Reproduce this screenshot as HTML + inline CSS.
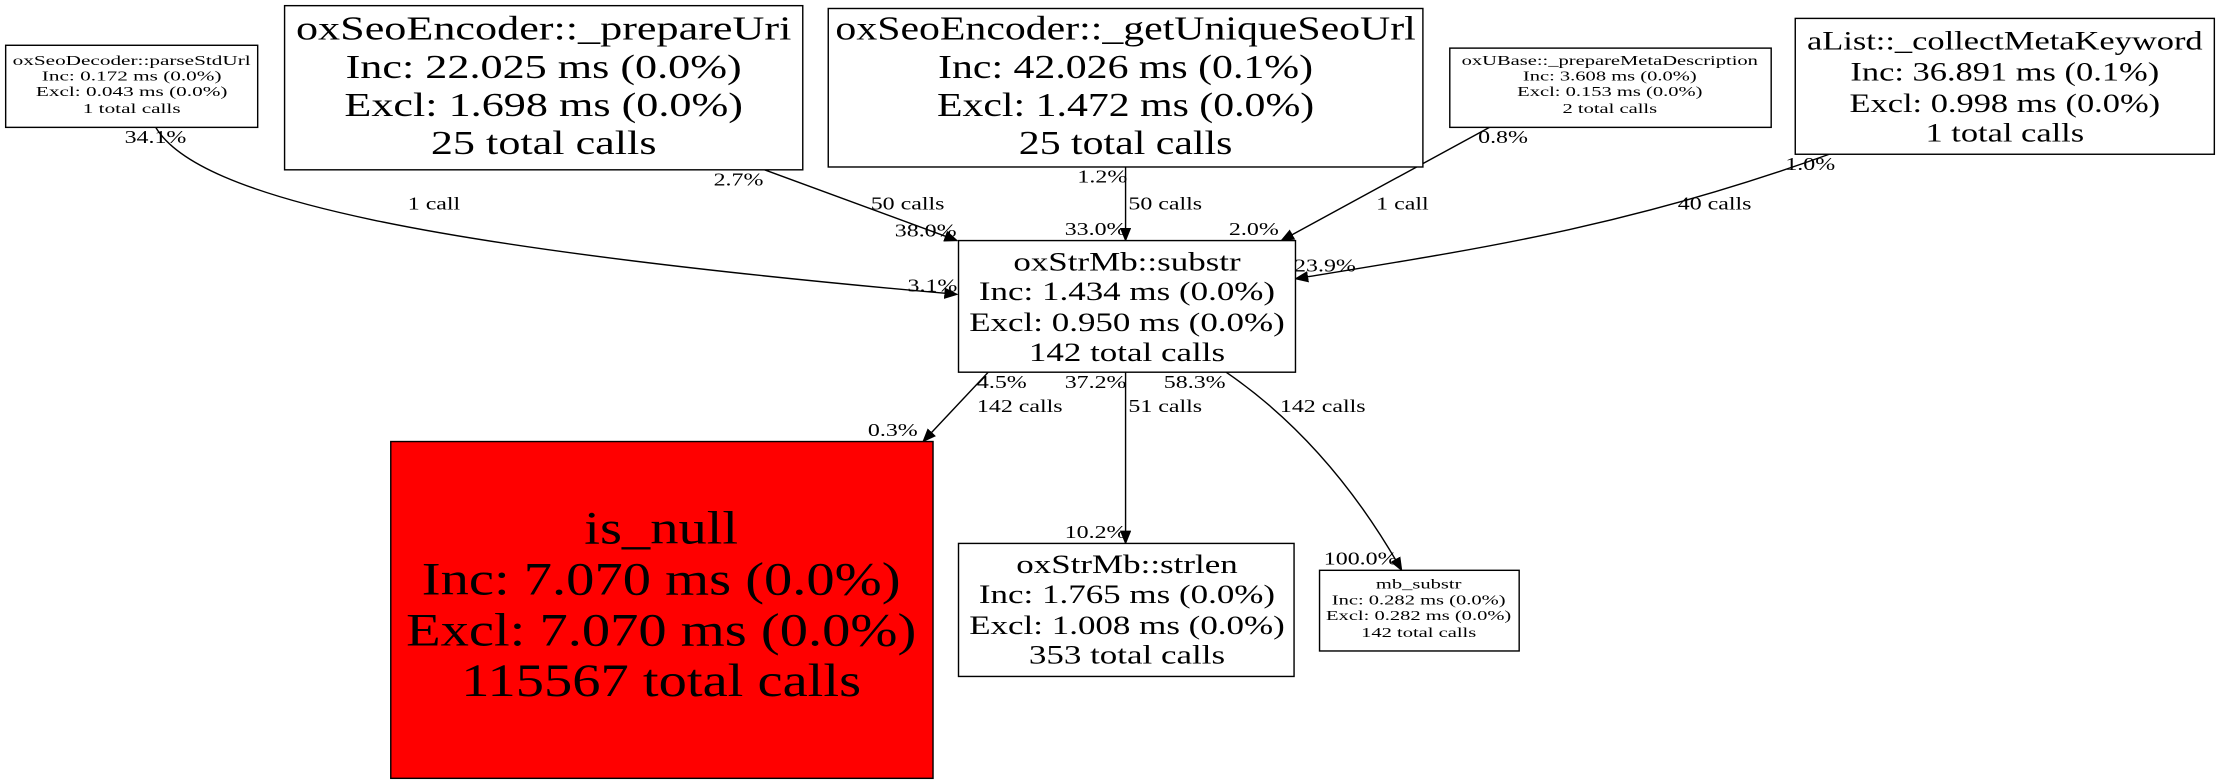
<!DOCTYPE html>
<html><head><meta charset="utf-8"><style>html,body{margin:0;padding:0;background:#fff;}svg{display:block}</style></head>
<body>
<svg width="2220" height="784" viewBox="0 0 1568 554" preserveAspectRatio="none" xmlns="http://www.w3.org/2000/svg" font-family="'Liberation Serif', serif">
<defs><marker id="a" markerWidth="10" markerHeight="8" refX="9" refY="4" orient="auto" markerUnits="userSpaceOnUse"><path d="M0,0 L10,4 L0,8 Z" fill="#000"/></marker></defs>
<g fill="none" stroke="#000" stroke-width="1">
<path d="M110,90 C140,140 300,175 676,208" marker-end="url(#a)"/>
<path d="M540,120 L676,170" marker-end="url(#a)"/>
<path d="M795,118 L795,170" marker-end="url(#a)"/>
<path d="M1052,90 L905,170" marker-end="url(#a)"/>
<path d="M1292,109 C1150,160 1050,175 915,197" marker-end="url(#a)"/>
<path d="M698,263 L652,312" marker-end="url(#a)"/>
<path d="M795,263 L795,384" marker-end="url(#a)"/>
<path d="M866,263 C920,300 960,350 990,403" marker-end="url(#a)"/>
</g>
<g stroke="#000" stroke-width="1" fill="#fff">
<rect x="4" y="32" width="178" height="58"/>
<rect x="201" y="4" width="366" height="116"/>
<rect x="585" y="6" width="420" height="112"/>
<rect x="1024" y="34" width="227" height="56"/>
<rect x="1268" y="13" width="296" height="96"/>
<rect x="677" y="170" width="238" height="93"/>
<rect x="276" y="312" width="383" height="238" fill="#f00"/>
<rect x="677" y="384" width="237" height="94"/>
<rect x="932" y="403" width="141" height="57"/>
</g>
<g text-anchor="middle" fill="#000">
<g font-size="10" transform="translate(93,0) scale(1.5,1)"><text x="0" y="46">oxSeoDecoder::parseStdUrl</text><text x="0" y="57">Inc: 0.172 ms (0.0%)</text><text x="0" y="68">Excl: 0.043 ms (0.0%)</text><text x="0" y="80">1 total calls</text></g>
<g font-size="24" transform="translate(384,0) scale(1.3,1)"><text x="0" y="28">oxSeoEncoder::_prepareUri</text><text x="0" y="55">Inc: 22.025 ms (0.0%)</text><text x="0" y="82">Excl: 1.698 ms (0.0%)</text><text x="0" y="109">25 total calls</text></g>
<g font-size="24" transform="translate(795,0) scale(1.23,1)"><text x="0" y="28">oxSeoEncoder::_getUniqueSeoUrl</text><text x="0" y="55">Inc: 42.026 ms (0.1%)</text><text x="0" y="82">Excl: 1.472 ms (0.0%)</text><text x="0" y="109">25 total calls</text></g>
<g font-size="10" transform="translate(1137,0) scale(1.45,1)"><text x="0" y="46">oxUBase::_prepareMetaDescription</text><text x="0" y="57">Inc: 3.608 ms (0.0%)</text><text x="0" y="68">Excl: 0.153 ms (0.0%)</text><text x="0" y="80">2 total calls</text></g>
<g font-size="19" transform="translate(1416,0) scale(1.28,1)"><text x="0" y="35">aList::_collectMetaKeyword</text><text x="0" y="57">Inc: 36.891 ms (0.1%)</text><text x="0" y="79">Excl: 0.998 ms (0.0%)</text><text x="0" y="100">1 total calls</text></g>
<g font-size="19" transform="translate(796,0) scale(1.3,1)"><text x="0" y="191">oxStrMb::substr</text><text x="0" y="212">Inc: 1.434 ms (0.0%)</text><text x="0" y="234">Excl: 0.950 ms (0.0%)</text><text x="0" y="255">142 total calls</text></g>
<g font-size="33" transform="translate(467,0) scale(1.21,1)"><text x="0" y="384">is_null</text><text x="0" y="420">Inc: 7.070 ms (0.0%)</text><text x="0" y="456">Excl: 7.070 ms (0.0%)</text><text x="0" y="492">115567 total calls</text></g>
<g font-size="19" transform="translate(796,0) scale(1.3,1)"><text x="0" y="405">oxStrMb::strlen</text><text x="0" y="426">Inc: 1.765 ms (0.0%)</text><text x="0" y="448">Excl: 1.008 ms (0.0%)</text><text x="0" y="469">353 total calls</text></g>
<g font-size="10" transform="translate(1002,0) scale(1.45,1)"><text x="0" y="416">mb_substr</text><text x="0" y="427">Inc: 0.282 ms (0.0%)</text><text x="0" y="438">Excl: 0.282 ms (0.0%)</text><text x="0" y="450">142 total calls</text></g>
</g>
<g font-size="13" fill="#000">
<text transform="translate(88,101) scale(1.3,1)">34.1%</text><text transform="translate(288,148) scale(1.3,1)">1 call</text><text transform="translate(641,206) scale(1.3,1)">3.1%</text>
<text transform="translate(504,131) scale(1.3,1)">2.7%</text><text transform="translate(615,148) scale(1.3,1)">50 calls</text><text transform="translate(632,167) scale(1.3,1)">38.0%</text>
<text transform="translate(761,129) scale(1.3,1)">1.2%</text><text transform="translate(797,148) scale(1.3,1)">50 calls</text><text transform="translate(752,166) scale(1.3,1)">33.0%</text>
<text transform="translate(1044,101) scale(1.3,1)">0.8%</text><text transform="translate(972,148) scale(1.3,1)">1 call</text><text transform="translate(868,166) scale(1.3,1)">2.0%</text>
<text transform="translate(1261,120) scale(1.3,1)">1.0%</text><text transform="translate(1185,148) scale(1.3,1)">40 calls</text><text transform="translate(914,192) scale(1.3,1)">23.9%</text>
<text transform="translate(690,274) scale(1.3,1)">4.5%</text><text transform="translate(690,291) scale(1.3,1)">142 calls</text><text transform="translate(613,308) scale(1.3,1)">0.3%</text>
<text transform="translate(752,274) scale(1.3,1)">37.2%</text><text transform="translate(797,291) scale(1.3,1)">51 calls</text><text transform="translate(752,380) scale(1.3,1)">10.2%</text>
<text transform="translate(822,274) scale(1.3,1)">58.3%</text><text transform="translate(904,291) scale(1.3,1)">142 calls</text><text transform="translate(935,399) scale(1.3,1)">100.0%</text>
</g>
</svg>
</body></html>
